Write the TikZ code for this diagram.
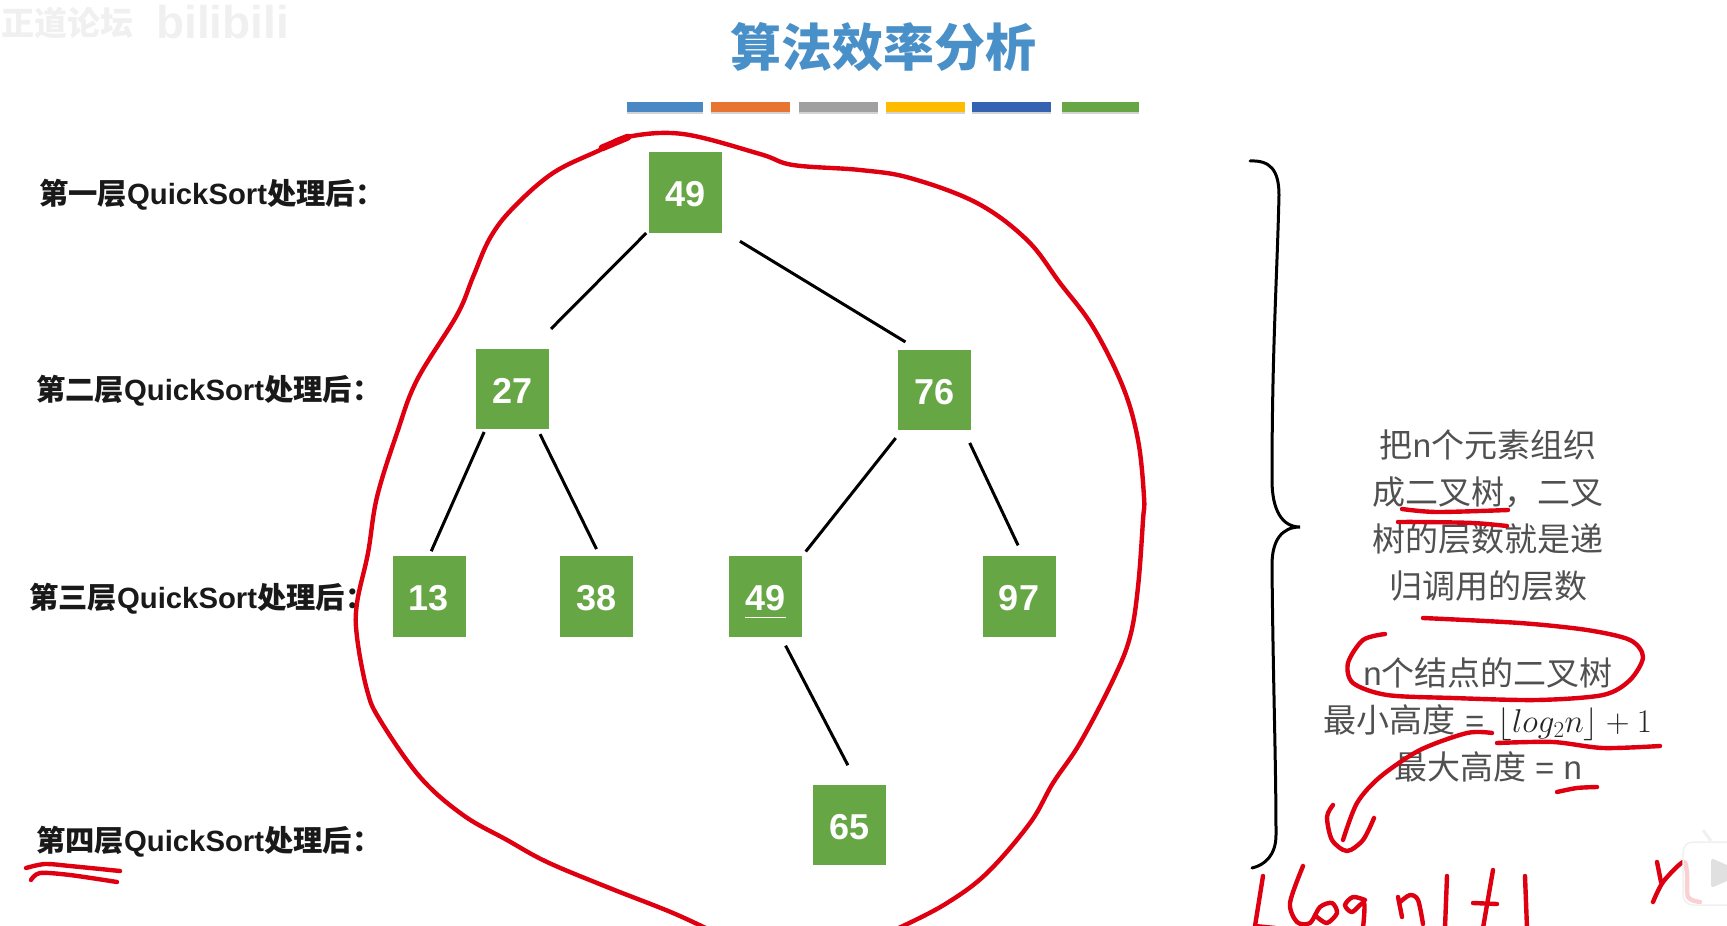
\documentclass[tikz,border=0pt]{standalone}
\usepackage{fix-cm}
\usepackage{fontspec}
\setmainfont{Liberation Sans}
\newfontfamily\cjk{Noto Sans CJK SC}
\newcommand{\cn}[1]{{\cjk #1}}
\usetikzlibrary{positioning,shadows}
\definecolor{leafgreen}{RGB}{102,166,68}
\definecolor{inkred}{RGB}{222,0,16}
\definecolor{titleblue}{RGB}{74,144,200}
\definecolor{softgray}{RGB}{80,80,80}
\definecolor{markgray}{RGB}{240,240,240}

\begin{document}
\begin{tikzpicture}[x=1pt,y=-1pt,
    box/.style={fill=leafgreen,text=white,minimum width=73pt,minimum height=80.5pt,inner sep=0pt,outer sep=0pt,text height=29pt,font=\bfseries\fontsize{36}{40}\selectfont},
    link/.style={draw=black,line width=3pt},
    lvl/.style={anchor=west,inner sep=0pt,text=black!90,font=\bfseries\fontsize{29.3}{34}\selectfont},
    info/.style={align=center,inner sep=0pt,text=softgray,font=\fontsize{33}{47}\selectfont},
    bar/.style={drop shadow={shadow xshift=0pt,shadow yshift=-2pt,opacity=.35}},
    ink/.style={draw=inkred,line width=4.4pt,line cap=round,line join=round}]
    \path[use as bounding box,clip] (0,0) rectangle (1727,926);

    \node[anchor=west,inner sep=0pt,text=markgray,font=\bfseries\fontsize{33}{38}\selectfont] (markcn) at (1,23) {\cn{正道论坛}};
    \node[anchor=west,inner sep=0pt,text=markgray,font=\bfseries\fontsize{46}{50}\selectfont] (markbl) at (156,22) {bilibili};

    \node[inner sep=0pt,text=titleblue,font=\bfseries\fontsize{51}{56}\selectfont] (title) at (883,47) {\cn{算法效率分析}};
    \fill[bar,fill={rgb,255:red,74;green,136;blue,197}] (627,102) rectangle (703,112);
    \fill[bar,fill={rgb,255:red,232;green,116;blue,49}] (711,102) rectangle (790,112);
    \fill[bar,fill={rgb,255:red,160;green,160;blue,160}] (799,102) rectangle (878,112);
    \fill[bar,fill={rgb,255:red,255;green,187;blue,0}] (886,102) rectangle (965,112);
    \fill[bar,fill={rgb,255:red,53;green,99;blue,178}] (972,102) rectangle (1051,112);
    \fill[bar,fill=leafgreen] (1062,102) rectangle (1139,112);

    \node[lvl] (l1) at (39,195) {\cn{第一层}QuickSort\cn{处理后：}};
    \node[lvl] (l2) at (36,391) {\cn{第二层}QuickSort\cn{处理后：}};
    \node[lvl] (l3) at (29,599) {\cn{第三层}QuickSort\cn{处理后：}};
    \node[lvl] (l4) at (36,842) {\cn{第四层}QuickSort\cn{处理后：}};

    \node[box] (a) at (685.5,192.5) {49};
    \node[box,below left=116pt and 100pt of a] (b) {27};
    \node[box,below right=117pt and 176pt of a] (c) {76};
    \node[box,below left=127pt and 10.5pt of b] (d) {13};
    \node[box,below right=127pt and 11pt of b] (e) {38};
    \node[box,below left=126pt and 96pt of c] (f) {49};
    \node[box,below right=126pt and 11.5pt of c] (g) {97};
    \node[box,below right=148pt and 11pt of f] (h) {65};
    \draw[white,line width=1.8pt] ([xshift=-20.5pt,yshift=-21pt]f.center) -- ([xshift=20.5pt,yshift=-21pt]f.center);

    \draw[link,shorten <=4pt,shorten >=28pt] (a.226) -- (b.65);
    \draw[link,shorten <=21pt,shorten >=15pt] (a.314) -- (c.112);
    \draw[link,shorten <=3pt,shorten >=5.5pt] (b.236) -- (d.north);
    \draw[link,shorten <=5.5pt,shorten >=8pt] (b.302) -- (e.85);
    \draw[link,shorten <=10pt,shorten >=6pt] (c.231) -- (f.north east);
    \draw[link,shorten <=14pt,shorten >=12pt] (c.306) -- (g.84);
    \draw[link,shorten <=10pt,shorten >=22pt] (f.291) -- (h.78);

    \node[info] (why) at (1488,516) {\cn{把}n\cn{个元素组织}\\ \cn{成二叉树，二叉}\\ \cn{树的层数就是递}\\ \cn{归调用的层数}};
    \node[info,below=55pt of why] (height) {n\cn{个结点的二叉树}\\ \cn{最小高度} =\hspace{4pt} \textcolor{black!85}{$\lfloor log_2 n\rfloor+1$}\\ \cn{最大高度} = n};

    \draw[black,line width=3pt,line cap=round] (1250,161) .. controls (1270,160) and (1279,170) .. (1279,195)
      .. controls (1277,280) and (1272,350) .. (1272,480) .. controls (1272,510) and (1282,527) .. (1300,527)
      .. controls (1282,527) and (1272,540) .. (1272,565) .. controls (1273,680) and (1276,760) .. (1276,835)
      .. controls (1276,855) and (1265,865) .. (1252,868);

    \draw[ink] plot[smooth,tension=.6] coordinates {(720,935) (673,913) (607,887) (547,862) (507,840) (463,815) (420,777) (380,720) (367,690) (357,637) (357,603) (368,553) (377,497) (397,433) (417,380) (457,315) (473,277) (490,238) (513,208) (553,173) (600,150) (627,137) (683,134) (760,154) (793,165) (860,170) (910,178) (977,203) (1027,240) (1060,283) (1093,327) (1123,387) (1138,440) (1144,497) (1143,520) (1138,587) (1130,637) (1113,680) (1080,743) (1053,783) (1030,823) (987,873) (947,903) (903,926) (870,940)};
    \draw[ink,line width=7pt] (602,148) -- (628,137);

    \draw[ink] plot[smooth] coordinates {(1402,509) (1437,512) (1508,510)};
    \draw[ink] plot[smooth] coordinates {(1398,522) (1420,522) (1473,523) (1507,526)};
    \draw[ink] plot[smooth] coordinates {(1385,634) (1363,640) (1348,663) (1353,683) (1387,695) (1453,698) (1537,700) (1603,695) (1630,680) (1643,657) (1630,640) (1587,630) (1520,623) (1423,618)};
    \draw[ink] plot[smooth] coordinates {(1497,743) (1553,742) (1603,748) (1660,746)};
    \draw[ink] plot[smooth] coordinates {(1557,792) (1577,788) (1597,787)};
    \draw[ink] plot[smooth] coordinates {(1492,733) (1467,733) (1420,750) (1380,777) (1357,803) (1343,840)};
    \draw[ink] plot[smooth] coordinates {(1333,805) (1327,817) (1332,840) (1347,851) (1363,840) (1374,818)};

    \draw[ink] plot[smooth] coordinates {(26,868) (45,864) (70,866) (120,871)};
    \draw[ink] plot[smooth] coordinates {(31,880) (40,873) (70,875) (117,882)};

    \draw[ink] (1263,876) -- (1255,926) -- (1275,928);
    \draw[ink] plot[smooth] coordinates {(1303,866) (1290,903) (1297,922) (1310,923) (1320,907) (1332,903) (1337,913) (1327,923) (1317,917)};
    \draw[ink] plot[smooth] coordinates {(1365,900) (1353,897) (1345,905) (1352,912) (1364,903) (1363,928)};
    \draw[ink] (1398,897) -- (1402,917);
    \draw[ink] plot[smooth] coordinates {(1400,902) (1410,895) (1418,900) (1423,924)};
    \draw[ink] (1447,876) -- (1445,928);
    \draw[ink] (1493,870) -- (1483,928);
    \draw[ink] (1473,903) -- (1497,904);
    \draw[ink] (1525,876) -- (1527,928);
    \draw[ink] (1657,862) -- (1661,882);
    \draw[ink] plot[smooth] coordinates {(1653,902) (1663,882) (1683,862) (1687,873) (1688,897) (1700,902)};

    \fill[white,opacity=.82,rounded corners=10pt] (1683,842) rectangle (1740,905);
    \draw[markgray,line width=1.5pt,rounded corners=10pt] (1740,842) -- (1683,842) -- (1683,905) -- (1740,905);
    \draw[markgray,line width=3pt] (1703,830) -- (1711,841);
    \fill[black!12,rounded corners=3pt] (1711,858) -- (1745,873) -- (1711,888) -- cycle;
\end{tikzpicture}
\end{document}
